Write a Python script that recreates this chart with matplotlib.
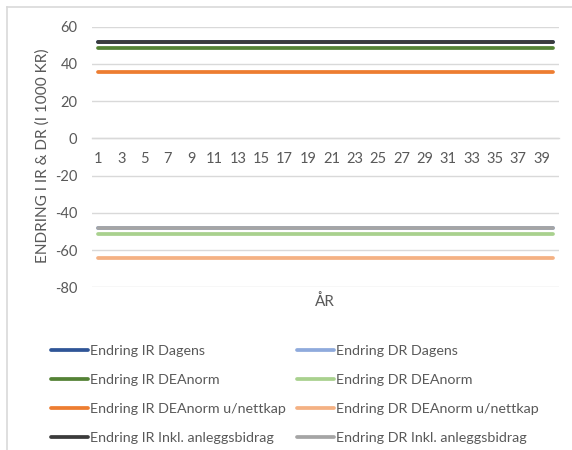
import matplotlib
matplotlib.use("Agg")
import matplotlib.pyplot as plt
from matplotlib.lines import Line2D

plt.rcParams['font.family'] = ['Lato', 'DejaVu Sans']

# Years and constant annual changes (1000 KR)
years = list(range(1, 41))
series_names = [
    "Endring IR Dagens", "Endring DR Dagens",
    "Endring IR DEAnorm", "Endring DR DEAnorm",
    "Endring IR DEAnorm u/nettkap", "Endring DR DEAnorm u/nettkap",
    "Endring IR Inkl. anleggsbidrag", "Endring DR Inkl. anleggsbidrag",
]
series_levels = [52.0, -48.2, 48.8, -51.3, 35.7, -64.2, 52.0, -48.2]
series_colors = ["#2F5597", "#8FAADC", "#548235", "#A9D18E",
                 "#ED7D31", "#F4B183", "#3B3B3B", "#A5A5A5"]
y_ticks = [-80, -60, -40, -20, 0, 20, 40, 60]
x_tick_labels = [str(y) for y in years if y % 2 == 1]

text_color = "#595959"
grid_color = "#D9D9D9"

fig = plt.figure(figsize=(5.72, 4.5), dpi=100)
ax = fig.add_axes([92 / 572, 1 - 287.3 / 450, (559 - 92) / 572, (287.3 - 26.7) / 450])

lines = {}
for name, level, color in zip(series_names, series_levels, series_colors):
    vals = [level] * len(years)
    ln, = ax.plot(years, vals, color=color, lw=2.7, solid_capstyle='round', zorder=3)
    lines[name] = ln

ax.set_xlim(0.5, 40.5)
ax.set_ylim(-80, 60)
ax.set_yticks(y_ticks)
ax.set_yticklabels([str(v) for v in y_ticks])
ax.set_xticks([y for y in years if y % 2 == 1])
ax.set_xticklabels(x_tick_labels)
ax.grid(axis='y', color=grid_color, lw=1.0, zorder=0)
ax.set_axisbelow(True)

for s in ['top', 'right', 'left']:
    ax.spines[s].set_visible(False)
ax.spines['bottom'].set_position(('data', 0))
ax.spines['bottom'].set_color(grid_color)
ax.spines['bottom'].set_linewidth(1.0)
ax.tick_params(axis='both', length=0, labelsize=10.5, labelcolor=text_color)
ax.tick_params(axis='x', pad=10)
ax.tick_params(axis='y', pad=10.5)

fig.text(43 / 572, 1 - 155.5 / 450, "ENDRING I IR & DR (I 1000 KR)", rotation=90,
         ha='center', va='center', fontsize=11.1, color=text_color)
fig.text(325 / 572, 1 - 302 / 450, "ÅR", ha='center', va='center',
         fontsize=11, color=text_color)

# Legend: IR series in the left column, DR series in the right column
order = [0, 2, 4, 6, 1, 3, 5, 7]
handles = [lines[series_names[i]] for i in order]
labels = [series_names[i] for i in order]
leg = fig.legend(handles, labels, ncol=2, loc='upper left',
                 bbox_to_anchor=(51 / 572, 1 - 344.5 / 450), frameon=False,
                 fontsize=10.3, handlelength=2.6, handletextpad=0.1,
                 columnspacing=0.8, labelspacing=1.2, borderpad=0, borderaxespad=0)
for t in leg.get_texts():
    t.set_color(text_color)

# Chart area frame
fig.add_artist(Line2D([7 / 572, 1], [1 - 7 / 450, 1 - 7 / 450], color=grid_color, lw=1.2,
                      transform=fig.transFigure))
fig.add_artist(Line2D([7 / 572, 7 / 572], [0, 1 - 7 / 450], color=grid_color, lw=1.2,
                      transform=fig.transFigure))

fig.savefig("out.png", dpi=100)
